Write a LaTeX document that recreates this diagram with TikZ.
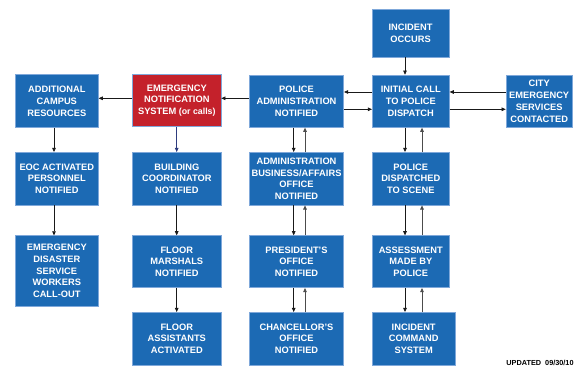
\documentclass[tikz,border=0pt]{standalone}
\usepackage{fontspec}
\setmainfont{Liberation Sans}
\usetikzlibrary{arrows.meta,calc}
\definecolor{boxblue}{HTML}{1C6AB4}
\definecolor{boxedge}{HTML}{7FA8DA}
\definecolor{boxred}{HTML}{C4212B}
\definecolor{navy}{HTML}{2E3C7E}
\tikzset{
  box/.style={draw=boxedge, line width=0.6pt, fill=boxblue, text=white, align=center,
    inner sep=0pt, font=\fontsize{9.3}{11.8}\selectfont\bfseries},
  redbox/.style={box, fill=boxred},
  arr/.style={draw=black!90, line width=0.75pt, -{Triangle[length=4.2pt,width=3.6pt]}},
  uparr/.style={arr, draw=black!70},
}
\newcommand{\bx}[5]{\node[box, minimum width=#3pt, minimum height=#4pt] (#1) at (#2) {#5};}
\begin{document}
\begin{tikzpicture}[x=1pt,y=-1pt]
\useasboundingbox (0,0) rectangle (575,366);
% nodes
\bx{inc}{410.6,33}{77}{48}{INCIDENT\\OCCURS}
\bx{pa}{296.5,101.2}{94.4}{52.3}{POLICE\\ADMINISTRATION\\NOTIFIED}
\bx{ic}{410.8,101.2}{77}{52.3}{INITIAL CALL\\TO POLICE\\DISPATCH}
\bx{city}{539.2,101.2}{66.3}{52.3}{CITY\\EMERGENCY\\SERVICES\\CONTACTED}
\bx{add}{56.8,101}{83}{53.4}{ADDITIONAL\\CAMPUS\\RESOURCES}
\node[redbox, minimum width=88.3pt, minimum height=52.4pt] (en) at (176.8,100.5)
  {EMERGENCY\\NOTIFICATION\\SYSTEM {\fontsize{8.8}{11.8}\selectfont(or calls)}};
\bx{eoc}{56.8,178.7}{83}{52.7}{EOC ACTIVATED\\PERSONNEL\\NOTIFIED}
\bx{eds}{56.8,270.9}{83}{70.3}{EMERGENCY\\DISASTER\\SERVICE\\WORKERS\\CALL-OUT}
\bx{bc}{176.8,178.7}{88.3}{52.7}{BUILDING\\COORDINATOR\\NOTIFIED}
\bx{fm}{176.8,261.7}{88.3}{52}{FLOOR\\MARSHALS\\NOTIFIED}
\bx{fa}{176.8,338.7}{88.3}{52.7}{FLOOR\\ASSISTANTS\\ACTIVATED}
\bx{ab}{296.5,178.7}{94.4}{52.7}{ADMINISTRATION\\BUSINESS/AFFAIRS\\OFFICE\\NOTIFIED}
\bx{pres}{296.5,261.7}{94.4}{52}{PRESIDENT’S\\OFFICE\\NOTIFIED}
\bx{chan}{296.5,338.7}{94.4}{52.7}{CHANCELLOR’S\\OFFICE\\NOTIFIED}
\bx{pd}{410.8,178.7}{77}{52.7}{POLICE\\DISPATCHED\\TO SCENE}
\bx{asm}{410.8,261.7}{77}{52}{ASSESSMENT\\MADE BY\\POLICE}
\bx{ics}{413.7,338.7}{82.7}{52.7}{INCIDENT\\COMMAND\\SYSTEM}
\node[font=\fontsize{7.3}{8}\selectfont\bfseries, inner sep=0pt] (upd) at (540,362.5) {UPDATED\ \ 09/30/10};
% reference x positions
\coordinate (xa) at (405,0);
\coordinate (xb) at (422,0);
\coordinate (xc) at (293.7,0);
\coordinate (xd) at (305,0);
\coordinate (xe) at (54,0);
\coordinate (xf) at (176.7,0);
\coordinate (ya) at (0,92);
\coordinate (yb) at (0,109.3);
\coordinate (yc) at (0,98.3);
% vertical arrows
\draw[arr] (inc.south -| xa) -- (ic.north -| xa);
\draw[arr] (ic.south -| xa) -- (pd.north -| xa);
\draw[uparr] (pd.north -| xb) -- (ic.south -| xb);
\draw[arr] (pd.south -| xa) -- (asm.north -| xa);
\draw[uparr] (asm.north -| xb) -- (pd.south -| xb);
\draw[arr] (asm.south -| xa) -- (ics.north -| xa);
\draw[uparr] (ics.north -| xb) -- (asm.south -| xb);
\draw[arr] (pa.south -| xc) -- (ab.north -| xc);
\draw[uparr] (ab.north -| xd) -- (pa.south -| xd);
\draw[arr] (ab.south -| xc) -- (pres.north -| xc);
\draw[uparr] (pres.north -| xd) -- (ab.south -| xd);
\draw[arr] (pres.south -| xc) -- (chan.north -| xc);
\draw[uparr] (chan.north -| xd) -- (pres.south -| xd);
\draw[arr] (add.south -| xe) -- (eoc.north -| xe);
\draw[arr] (eoc.south -| xe) -- (eds.north -| xe);
\draw[arr, draw=navy, -{Triangle[length=4.2pt,width=3.6pt,fill=navy]}] (en.south -| xf) -- (bc.north -| xf);
\draw[arr] (bc.south -| xf) -- (fm.north -| xf);
\draw[arr] (fm.south -| xf) -- (fa.north -| xf);
% horizontal arrows
\draw[arr] (ic.west |- ya) -- (pa.east |- ya);
\draw[arr] (pa.east |- yb) -- (ic.west |- yb);
\draw[arr] (city.west |- ya) -- (ic.east |- ya);
\draw[arr] (ic.east |- yb) -- (city.west |- yb);
\draw[arr] (pa.west |- yc) -- (en.east |- yc);
\draw[arr] (en.west |- yc) -- (add.east |- yc);
\end{tikzpicture}
\end{document}
